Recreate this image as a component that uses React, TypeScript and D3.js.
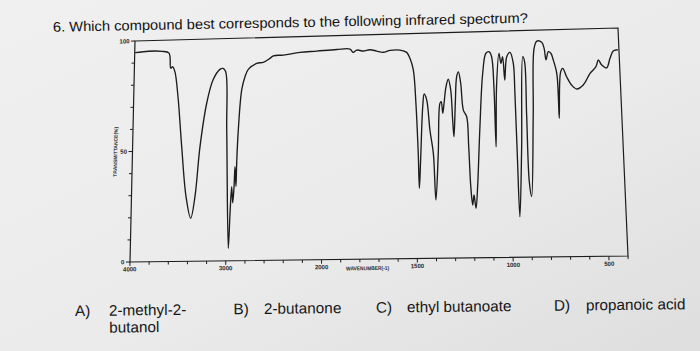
import React from "react";
import * as d3 from "d3";

// ---------- data ----------
const wavenumbers = [
  3995, 3850, 3707, 3631, 3610, 3589, 3564, 3527, 3479, 3425, 3373, 3331, 3285, 3219, 3155,
  3082, 3049, 3020, 3003, 2975, 2960, 2945, 2933, 2920, 2912, 2900, 2894, 2880, 2847, 2813,
  2778, 2688, 2618, 2546, 2510, 2403, 2224, 2044, 1914, 1843, 1826, 1807, 1772, 1736, 1700,
  1665, 1628, 1575, 1539, 1522, 1505, 1494, 1486, 1483, 1474, 1458, 1449, 1436, 1422, 1406,
  1397, 1380, 1366, 1359, 1352, 1344, 1332, 1319, 1307, 1300, 1295, 1284, 1274, 1264, 1253,
  1242, 1225, 1218, 1212, 1204, 1196, 1187, 1176, 1156, 1134, 1114, 1096, 1084, 1076, 1073,
  1062, 1044, 1035, 1025, 1017, 1003, 985, 969, 965, 962, 958, 938, 917, 908, 906,
  903, 893, 871, 855, 839, 813, 801, 793, 779, 766, 754, 738, 734, 733, 717,
  705, 686, 661, 634, 599, 560, 527, 513, 496, 470, 450, 431, 412, 405,
];
const transmittance = [
  94.7, 95.2, 95.0, 94.1, 87.3, 87.9, 85.6, 74.3, 51.7, 29.1, 19.4, 29.1, 51.6, 71.2, 81.5,
  86.2, 86.6, 85.1, 58.8, 5.6, 21.5, 33.3, 26.0, 33.4, 42.3, 33.4, 44.5, 58.7, 76.7, 82.6,
  85.9, 88.5, 88.9, 90.6, 91.7, 91.9, 92.9, 93.3, 93.8, 93.8, 92.3, 93.3, 92.8, 93.3, 92.6,
  92.0, 92.8, 92.8, 91.7, 89.0, 83.8, 69.0, 46.7, 31.2, 43.7, 67.4, 73.0, 70.3, 57.0, 46.6,
  25.9, 46.6, 68.7, 69.4, 64.3, 68.7, 76.0, 79.3, 74.5, 61.2, 53.8, 68.6, 80.3, 82.5, 77.4,
  65.5, 62.5, 49.2, 31.5, 23.4, 27.8, 21.9, 31.5, 58.0, 81.6, 90.4, 91.0, 88.8, 75.5, 49.0,
  75.5, 90.2, 85.8, 88.7, 78.4, 88.6, 90.5, 85.7, 72.4, 45.9, 17.9, 48.1, 88.5, 86.2, 62.7,
  33.3, 26.7, 62.7, 92.0, 95.2, 94.6, 91.9, 86.8, 90.4, 89.7, 86.7, 80.8, 71.2, 61.0, 81.4,
  82.9, 79.2, 75.5, 73.7, 75.4, 80.4, 83.3, 86.2, 84.0, 82.7, 86.8, 90.0, 90.4, 90.4,
];

const xTickLabels = [4000, 3000, 2000, 1500, 1000, 500];
const yTickLabels = [0, 50, 100];
const questionText = "6. Which compound best corresponds to the following infrared spectrum?";
const xAxisTitle = "WAVENUMBER(-1)";
const yAxisTitle = "TRANSMITTANCE(%)";
const optionLetters = ["A)", "B)", "C)", "D)"];
const optionNames = [["2-methyl-2-", "butanol"], ["2-butanone"], ["ethyl butanoate"], ["propanoic acid"]];

// ---------- layout ----------
const WIDTH = 700;
const HEIGHT = 351;
const W = 490;
const H = 224;
// photographed plot frame corners (page is seen slightly in perspective)
const TL = [135, 41];
const TR = [618, 28];
const BL = [130, 262];
const BR = [628, 256];
const optionLetterX = [75, 233.5, 376, 554];
const optionNameX = [109, 264, 407, 586];

function proj(x: number, y: number): [number, number] {
  const u = x / W;
  const v = y / H;
  const px = (1 - u) * (1 - v) * TL[0] + u * (1 - v) * TR[0] + (1 - u) * v * BL[0] + u * v * BR[0];
  const py = (1 - u) * (1 - v) * TL[1] + u * (1 - v) * TR[1] + (1 - u) * v * BL[1] + u * v * BR[1];
  return [px, py];
}
function hAngle(x: number, y: number) {
  const a = proj(x - 1, y);
  const b = proj(x + 1, y);
  return (Math.atan2(b[1] - a[1], b[0] - a[0]) * 180) / Math.PI;
}
function vAngle(x: number, y: number) {
  const a = proj(x, y + 1);
  const b = proj(x, y - 1);
  return (Math.atan2(b[1] - a[1], b[0] - a[0]) * 180) / Math.PI;
}

export default function App() {
  const xScale = d3.scaleLinear().domain([4000, 2000, 400]).range([0, (W * 2000) / 5200, W]);
  const yScale = d3.scaleLinear().domain([0, 100]).range([H, 0]);

  const pts = wavenumbers.map((wn, i) => proj(xScale(wn), yScale(transmittance[i])));
  const line = d3.line().curve(d3.curveCatmullRom.alpha(0.5));
  const specPath = line(pts as [number, number][]) || "";

  const frame = [proj(0, 0), proj(W, 0), proj(W, H), proj(0, H)];
  const framePath = "M" + frame.map((p) => p.join(",")).join("L") + "Z";

  const xTicks = d3.range(4000, 2000, -200).concat(d3.range(2000, 399, -100));
  const yTicks = d3.range(0, 101, 10);

  const ink = "#1c1c1c";
  const smallInk = "#2a2a2a";

  const xTitleX = xScale(1760);
  const [xtx, xty] = proj(xTitleX, H + 11);
  const [ytx, yty] = proj(-17, H / 2);

  return (
    <svg
      width={WIDTH}
      height={HEIGHT}
      viewBox={`0 0 ${WIDTH} ${HEIGHT}`}
      style={{ position: "absolute", left: 0, top: 0 }}
    >
      <defs>
        <linearGradient id="paper" x1="0" y1="0" x2="1" y2="1">
          <stop offset="0" stopColor="#f0f0f0" />
          <stop offset="0.55" stopColor="#ebebeb" />
          <stop offset="1" stopColor="#dedede" />
        </linearGradient>
      </defs>
      <rect x={0} y={0} width={WIDTH} height={HEIGHT} fill="url(#paper)" />

      <text
        x={53}
        y={31.7}
        transform="rotate(-1.08, 53, 31.7)"
        fontFamily="'Liberation Sans', Arial, sans-serif"
        fontSize={14}
        fill="#121212"
        textLength={475}
        lengthAdjust="spacingAndGlyphs"
      >
        {questionText}
      </text>

      {/* frame */}
      <path d={framePath} fill="none" stroke={ink} strokeWidth={1.2} />

      {/* x ticks */}
      {xTicks.map((t) => {
        const major = xTickLabels.includes(t);
        const a = proj(xScale(t), H);
        const b = proj(xScale(t), H + (major ? 4 : 3));
        return <line key={"xt" + t} x1={a[0]} y1={a[1]} x2={b[0]} y2={b[1]} stroke={ink} strokeWidth={1} />;
      })}
      {xTickLabels.map((t) => {
        const [lx, ly] = proj(xScale(t), H + 9.5);
        return (
          <text
            key={"xl" + t}
            x={lx}
            y={ly}
            transform={`rotate(${hAngle(xScale(t), H)}, ${lx}, ${ly})`}
            textAnchor="middle"
            fontFamily="'Liberation Sans', Arial, sans-serif"
            fontWeight="bold"
            fontSize={6}
            fill={smallInk}
          >
            {t}
          </text>
        );
      })}
      <text
        x={xtx}
        y={xty}
        transform={`rotate(${hAngle(xTitleX, H)}, ${xtx}, ${xty})`}
        textAnchor="middle"
        fontFamily="'Liberation Sans', Arial, sans-serif"
        fontWeight="bold"
        fontSize={5.5}
        fill={smallInk}
        textLength={43}
        lengthAdjust="spacingAndGlyphs"
      >
        {xAxisTitle}
      </text>

      {/* y ticks */}
      {yTicks.map((t) => {
        const major = yTickLabels.includes(t);
        const a = proj(0, yScale(t));
        const b = proj(major ? -4 : -3, yScale(t));
        return <line key={"yt" + t} x1={a[0]} y1={a[1]} x2={b[0]} y2={b[1]} stroke={ink} strokeWidth={1} />;
      })}
      {yTickLabels.map((t) => {
        const [lx, ly] = proj(-5.5, yScale(t));
        return (
          <text
            key={"yl" + t}
            x={lx}
            y={ly}
            dy="0.35em"
            transform={`rotate(${hAngle(0, yScale(t))}, ${lx}, ${ly})`}
            textAnchor="end"
            fontFamily="'Liberation Sans', Arial, sans-serif"
            fontWeight="bold"
            fontSize={6}
            fill={smallInk}
          >
            {t}
          </text>
        );
      })}
      <text
        x={ytx}
        y={yty}
        dy="0.35em"
        transform={`rotate(${vAngle(0, H / 2)}, ${ytx}, ${yty})`}
        textAnchor="middle"
        fontFamily="'Liberation Sans', Arial, sans-serif"
        fontWeight="bold"
        fontSize={5}
        fill={smallInk}
        textLength={50}
        lengthAdjust="spacingAndGlyphs"
      >
        {yAxisTitle}
      </text>

      {/* spectrum */}
      <path d={specPath} fill="none" stroke={ink} strokeWidth={1.35} strokeLinejoin="round" />

      {/* answer options */}
      <g
        transform="rotate(-0.63, 75, 316)"
        fontFamily="'Liberation Sans', Arial, sans-serif"
        fontSize={15.3}
        fill="#161616"
      >
        {optionLetters.map((l, i) => (
          <g key={l}>
            <text x={optionLetterX[i]} y={316}>
              {l}
            </text>
            {optionNames[i].map((n, j) => (
              <text key={n} x={optionNameX[i]} y={316 + j * 17}>
                {n}
              </text>
            ))}
          </g>
        ))}
      </g>
    </svg>
  );
}
